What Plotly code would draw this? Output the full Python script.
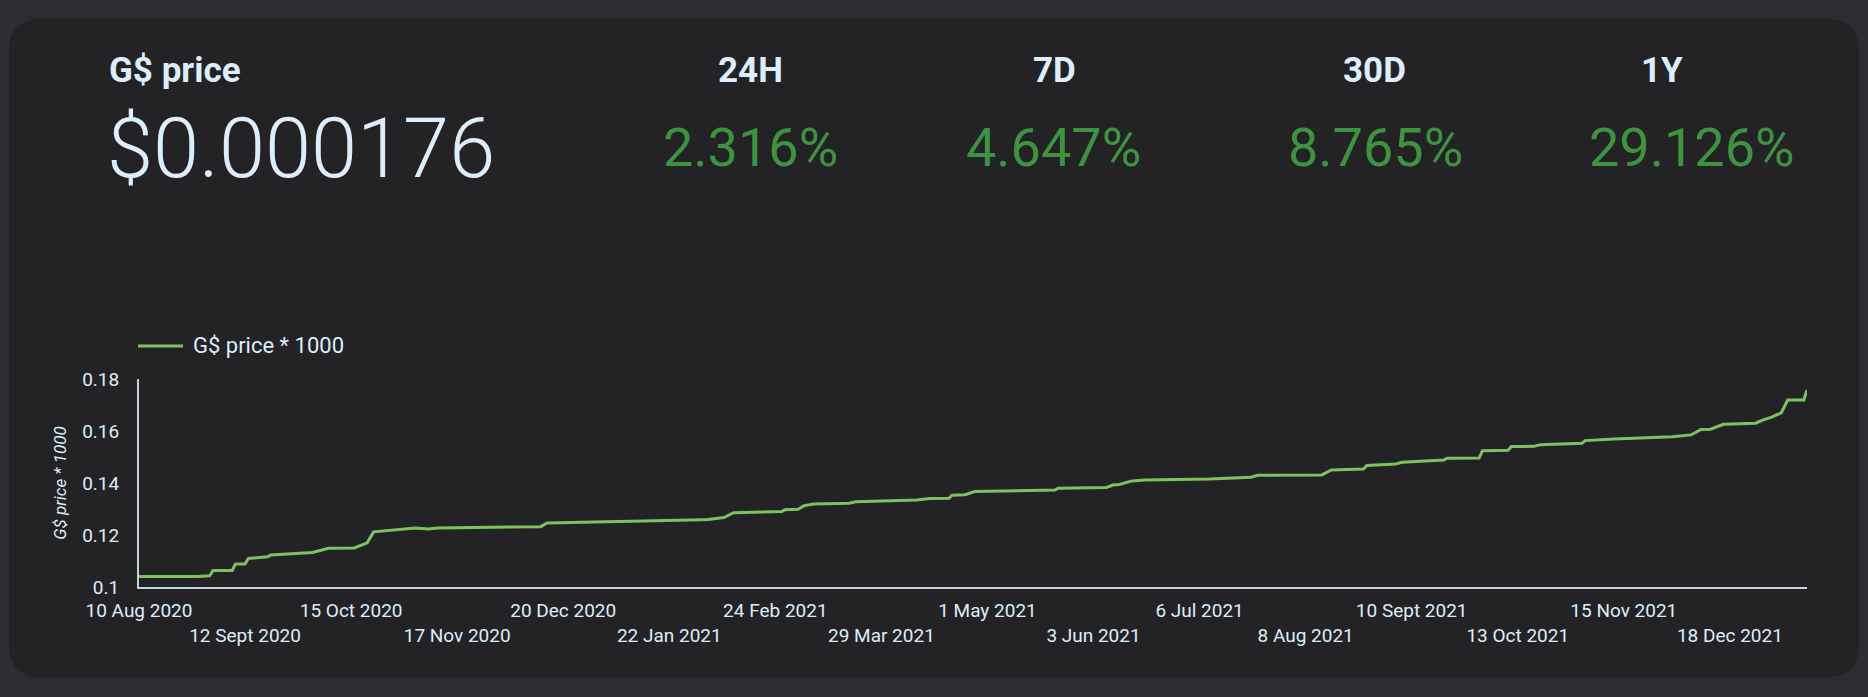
import plotly.graph_objects as go

# price history (G$ price * 1000)
dates = [
    "2020-08-10", "2020-08-28", "2020-09-01", "2020-09-02", "2020-09-08", "2020-09-09",
    "2020-09-12", "2020-09-13", "2020-09-19", "2020-09-20", "2020-10-03", "2020-10-08",
    "2020-10-16", "2020-10-20", "2020-10-22", "2020-10-31", "2020-11-04", "2020-11-08",
    "2020-11-11", "2020-12-13", "2020-12-15", "2021-02-01", "2021-02-03", "2021-02-08",
    "2021-02-11", "2021-02-26", "2021-02-27", "2021-03-03", "2021-03-05", "2021-03-08",
    "2021-03-19", "2021-03-21", "2021-04-09", "2021-04-13", "2021-04-19", "2021-04-20",
    "2021-04-24", "2021-04-27", "2021-05-22", "2021-05-23", "2021-06-07", "2021-06-09",
    "2021-06-11", "2021-06-15", "2021-06-19", "2021-07-09", "2021-07-22", "2021-07-24",
    "2021-08-13", "2021-08-16", "2021-08-26", "2021-08-27", "2021-09-05", "2021-09-07",
    "2021-09-20", "2021-09-21", "2021-10-01", "2021-10-02", "2021-10-10", "2021-10-11",
    "2021-10-18", "2021-10-20", "2021-11-02", "2021-11-03", "2021-11-12", "2021-11-30",
    "2021-12-06", "2021-12-09", "2021-12-12", "2021-12-16", "2021-12-26", "2021-12-28",
    "2021-12-31", "2022-01-03", "2022-01-05", "2022-01-10", "2022-01-11",
]
prices = [
    0.1040, 0.1040, 0.1043, 0.1063, 0.1063, 0.1088,
    0.1088, 0.1110, 0.1116, 0.1123, 0.1133, 0.1149,
    0.1150, 0.1170, 0.1212, 0.1222, 0.1227, 0.1223,
    0.1227, 0.1232, 0.1246, 0.1259, 0.1260, 0.1267,
    0.1286, 0.1290, 0.1297, 0.1299, 0.1313, 0.1319,
    0.1322, 0.1328, 0.1335, 0.1340, 0.1341, 0.1353,
    0.1355, 0.1367, 0.1373, 0.1380, 0.1383, 0.1392,
    0.1394, 0.1408, 0.1412, 0.1415, 0.1422, 0.1430,
    0.1431, 0.1450, 0.1454, 0.1467, 0.1473, 0.1480,
    0.1488, 0.1495, 0.1496, 0.1524, 0.1526, 0.1540,
    0.1541, 0.1547, 0.1553, 0.1563, 0.1569, 0.1578,
    0.1585, 0.1606, 0.1607, 0.1626, 0.1630, 0.1641,
    0.1653, 0.1670, 0.1719, 0.1719, 0.1758,
]

tick_dates = [
    "2020-08-10", "2020-09-12", "2020-10-15", "2020-11-17", "2020-12-20", "2021-01-22",
    "2021-02-24", "2021-03-29", "2021-05-01", "2021-06-03", "2021-07-06", "2021-08-08",
    "2021-09-10", "2021-10-13", "2021-11-15", "2021-12-18",
]
tick_labels = [
    "10 Aug 2020", "12 Sept 2020", "15 Oct 2020", "17 Nov 2020", "20 Dec 2020", "22 Jan 2021",
    "24 Feb 2021", "29 Mar 2021", "1 May 2021", "3 Jun 2021", "6 Jul 2021", "8 Aug 2021",
    "10 Sept 2021", "13 Oct 2021", "15 Nov 2021", "18 Dec 2021",
]

series_name = "G$ price * 1000"
current_price = "$0.000176"
periods = ["24H", "7D", "30D", "1Y"]
changes = ["2.316%", "4.647%", "8.765%", "29.126%"]

W, H = 1868, 697
L, R, T, B = 139, 1807, 379, 587   # plot area in pixels

BG = "#2d2c31"
CARD = "#232325"
TXT = "#dceefb"
GREEN = "#3c943f"
LINE = "#7cc35f"
FONT = "Roboto"


def px(x):
    return (x - L) / (R - L)


def py(y):
    return (B - y) / (B - T)


# alternate tick labels between two rows
ticktext = [t if i % 2 == 0 else "<br>" + t for i, t in enumerate(tick_labels)]

fig = go.Figure()
fig.add_trace(go.Scatter(x=dates, y=prices, mode="lines", name=series_name,
                         line=dict(color=LINE, width=3), showlegend=False))

# card background with rounded corners
x0, y0, x1, y1, r = 9, 19, 1859, 677, 32
card = (f"M {px(x0+r)},{py(y0)} L {px(x1-r)},{py(y0)} "
        f"Q {px(x1)},{py(y0)} {px(x1)},{py(y0+r)} L {px(x1)},{py(y1-r)} "
        f"Q {px(x1)},{py(y1)} {px(x1-r)},{py(y1)} L {px(x0+r)},{py(y1)} "
        f"Q {px(x0)},{py(y1)} {px(x0)},{py(y1-r)} L {px(x0)},{py(y0+r)} "
        f"Q {px(x0)},{py(y0)} {px(x0+r)},{py(y0)} Z")
fig.add_shape(type="path", path=card, xref="paper", yref="paper",
              fillcolor=CARD, line=dict(width=0), layer="below")

# legend entry (long line sample like the original)
fig.add_shape(type="line", xref="paper", yref="paper", x0=px(138), x1=px(183),
              y0=py(346), y1=py(346), line=dict(color=LINE, width=3))

ann = []
ann.append(dict(text=series_name, x=px(191), y=py(345), xanchor="left", yanchor="middle",
                font=dict(size=22, color=TXT)))
ann.append(dict(text="<b>G$ price</b>", x=px(107), y=py(70), xanchor="left", yanchor="middle",
                font=dict(size=35, color=TXT)))
ann.append(dict(text=current_price, x=px(105), y=py(148), xanchor="left", yanchor="middle",
                font=dict(size=83, color=TXT, weight=300)))
head_x = [750, 1054, 1374, 1662]
val_x = [750, 1053, 1375, 1692]
for p, c, hx, vx in zip(periods, changes, head_x, val_x):
    ann.append(dict(text="<b>" + p + "</b>", x=px(hx), y=py(70), xanchor="center", yanchor="middle",
                    font=dict(size=35, color=TXT)))
    ann.append(dict(text=c, x=px(vx), y=py(147), xanchor="center", yanchor="middle",
                    font=dict(size=54, color=GREEN)))
for a in ann:
    a.update(xref="paper", yref="paper", showarrow=False)

fig.update_layout(
    width=W, height=H,
    margin=dict(l=L, r=W - R, t=T, b=H - B),
    paper_bgcolor=BG,
    plot_bgcolor=CARD,
    font=dict(family=FONT, color=TXT, size=19),
    annotations=ann,
    showlegend=False,
    xaxis=dict(range=[dates[0], dates[-1]], tickmode="array", tickvals=tick_dates,
               ticktext=ticktext, tickangle=0, showgrid=False, zeroline=False,
               showline=True, linecolor="#c5d1dc", linewidth=2, ticks="",
               tickfont=dict(size=19, color=TXT), ticklabelstandoff=5),
    yaxis=dict(range=[0.1, 0.18], tickvals=[0.1, 0.12, 0.14, 0.16, 0.18], showgrid=False,
               zeroline=False, showline=True, linecolor="#c5d1dc", linewidth=2, ticks="",
               tickfont=dict(size=19, color=TXT), ticklabelstandoff=14,
               title=dict(text="<i>" + series_name + "</i>", font=dict(size=17, color=TXT),
                          standoff=11)),
)

fig.write_html("out.html", config={"displayModeBar": False},
               post_script="document.body.style.margin='0';document.body.style.background='%s';" % BG)
